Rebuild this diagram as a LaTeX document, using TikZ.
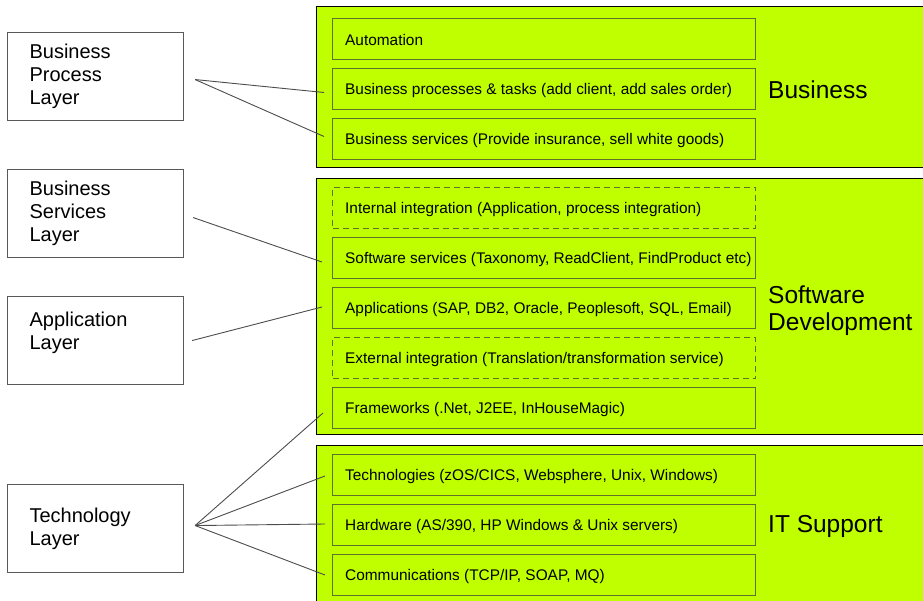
\documentclass[tikz,border=0pt]{standalone}
\usepackage{fontspec}
\setmainfont{Liberation Sans}
\begin{document}
\begin{tikzpicture}[x=1pt,y=-1pt,
  layer/.style={draw=black!65,line width=1.1pt,fill=white,anchor=north west,minimum width=176pt,minimum height=88pt,text width=132pt,inner xsep=22pt,align=left,font=\fontsize{20}{23}\selectfont},
  panel/.style={draw=black,line width=1pt,fill=lime},
  item/.style={draw=olivegray,line width=1pt,anchor=north west,minimum width=423pt,minimum height=41pt,inner sep=0pt,label={[anchor=west,xshift=13pt,yshift=-1.5pt,inner sep=0pt,font=\fontsize{15.4}{18}\selectfont]west:#1}},
  dashitem/.style={item={#1},dashed,dash pattern=on 6pt off 4pt},
  title/.style={anchor=west,align=left,inner sep=0pt,font=\fontsize{24.5}{27}\selectfont},
  link/.style={draw=black!70,line width=0.9pt}]
	\definecolor{lime}{RGB}{192,255,0}
	\definecolor{olivegray}{RGB}{95,115,40}
	\useasboundingbox (0,0) rectangle (923,601);
	\clip (0,0) rectangle (923,601);
	%
	\path[panel] (316,7) rectangle (935,168);
	\path[panel] (316,179) rectangle (935,434);
	\path[panel] (316,445) rectangle (935,615);
	\node[title] (tbus) at (768,90) {Business};
	\node[title] (tsoft) at (768,311) {Software\\Development};
	\node[title] (tits) at (768,526) {IT Support};
	%
	\node[item={Automation}] (auto) at (332,18) {};
	\node[item={Business processes \& tasks (add client, add sales order)}] (proc) at (332,68) {};
	\node[item={Business services (Provide insurance, sell white goods)}] (bsrv) at (332,118) {};
	\node[dashitem={Internal integration (Application, process integration)}] (intg) at (332,187) {};
	\node[item={Software services (Taxonomy, ReadClient, FindProduct etc)}] (ssrv) at (332,237) {};
	\node[item={Applications (SAP, DB2, Oracle, Peoplesoft, SQL, Email)}] (apps) at (332,287) {};
	\node[dashitem={External integration (Translation/transformation service)}] (extg) at (332,337) {};
	\node[item={Frameworks (.Net, J2EE, InHouseMagic)}] (frmw) at (332,387) {};
	\node[item={Technologies (zOS/CICS, Websphere, Unix, Windows)}] (tech) at (332,454) {};
	\node[item={Hardware (AS/390, HP Windows \& Unix servers)}] (hard) at (332,504) {};
	\node[item={Communications (TCP/IP, SOAP, MQ)}] (comm) at (332,554) {};
	%
	\node[layer] (bpl) at (7,32) {Business\\Process\\Layer};
	\node[layer] (bsl) at (7,169) {Business\\Services\\Layer};
	\node[layer] (apl) at (7,296) {Application\\Layer\\[-3pt]\mbox{}};
	\node[layer] (tcl) at (7,484) {Technology\\Layer};
	%
	\coordinate (bplout) at ([xshift=11pt,yshift=-3pt]bpl.east);
	\coordinate (bslout) at ([xshift=9pt,yshift=-4pt]bsl.east);
	\coordinate (aplout) at ([xshift=8pt]apl.east);
	\coordinate (tclout) at ([xshift=11pt,yshift=3pt]tcl.east);
	\draw[link] (bplout) -- ([xshift=-8pt,yshift=-3.5pt]proc.west);
	\draw[link] (bplout) -- ([xshift=-8pt,yshift=2.5pt]bsrv.west);
	\draw[link] (bslout) -- ([xshift=-10pt,yshift=-4pt]ssrv.west);
	\draw[link] (aplout) -- ([xshift=-10pt,yshift=1pt]apps.west);
	\draw[link] (tclout) -- ([xshift=-9pt,yshift=-5pt]frmw.west);
	\draw[link] (tclout) -- ([xshift=-7pt,yshift=-1pt]tech.west);
	\draw[link] (tclout) -- ([xshift=-7pt,yshift=1pt]hard.west);
	\draw[link] (tclout) -- ([xshift=-7pt]comm.west);
\end{tikzpicture}
\end{document}
